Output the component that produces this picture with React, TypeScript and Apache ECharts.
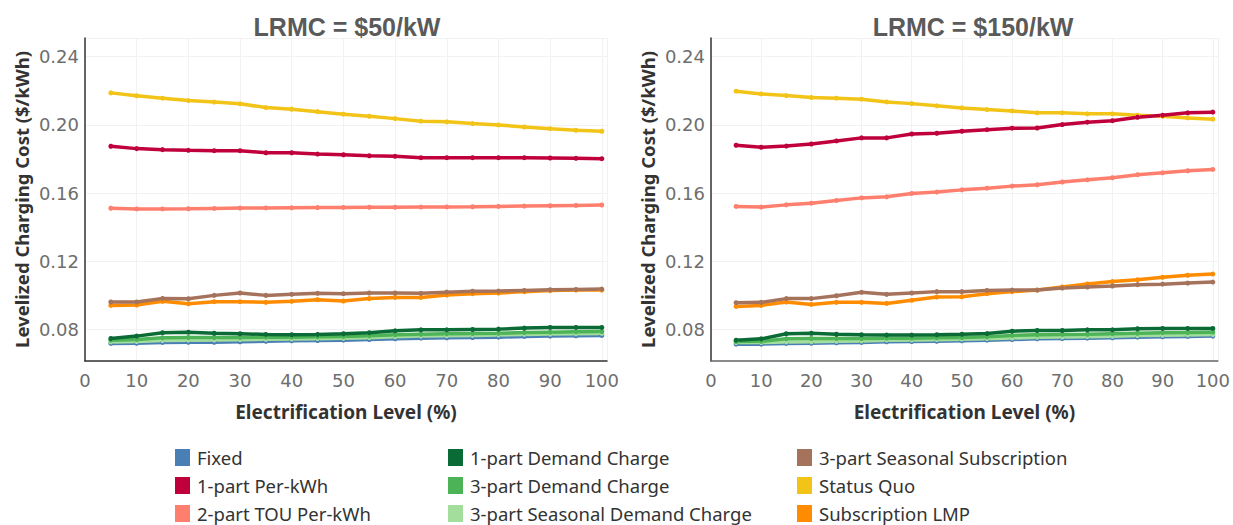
import React, { useEffect, useRef } from "react";
import * as echarts from "echarts";

// Electrification level (%) at each computed point
const electrification = [5, 10, 15, 20, 25, 30, 35, 40, 45, 50, 55, 60, 65, 70, 75, 80, 85, 90, 95, 100];

const panelTitles = ["LRMC = $50/kW", "LRMC = $150/kW"];

// ---- LRMC = $50/kW ----
const fixed50 = [0.0718, 0.0719, 0.0724, 0.0725, 0.0725, 0.0728, 0.0731, 0.0734, 0.0735, 0.0737, 0.0741, 0.0745, 0.0749, 0.0751, 0.0753, 0.0755, 0.0759, 0.0761, 0.0763, 0.0765];
const onePartKwh50 = [0.1875, 0.1861, 0.1855, 0.1851, 0.1849, 0.1849, 0.1837, 0.1837, 0.1829, 0.1825, 0.1819, 0.1816, 0.1808, 0.1808, 0.1808, 0.1808, 0.1808, 0.1806, 0.1804, 0.1802];
const twoPartTou50 = [0.1511, 0.1507, 0.1507, 0.1508, 0.1510, 0.1512, 0.1513, 0.1514, 0.1515, 0.1516, 0.1517, 0.1517, 0.1518, 0.1519, 0.1520, 0.1522, 0.1524, 0.1526, 0.1528, 0.1530];
const onePartDemand50 = [0.0747, 0.0761, 0.0781, 0.0784, 0.0778, 0.0775, 0.0771, 0.0769, 0.0771, 0.0775, 0.0781, 0.0792, 0.0798, 0.0798, 0.0800, 0.0802, 0.0808, 0.0812, 0.0812, 0.0812];
const threePartDemand50 = [0.0737, 0.0741, 0.0751, 0.0753, 0.0753, 0.0753, 0.0755, 0.0755, 0.0757, 0.0759, 0.0763, 0.0769, 0.0772, 0.0775, 0.0776, 0.0778, 0.0782, 0.0784, 0.0786, 0.0788];
const threePartSeasDemand50 = [0.0727, 0.0729, 0.0735, 0.0737, 0.0738, 0.0740, 0.0742, 0.0744, 0.0746, 0.0748, 0.0752, 0.0757, 0.0761, 0.0763, 0.0765, 0.0767, 0.0771, 0.0773, 0.0775, 0.0777];
const threePartSeasSub50 = [0.0961, 0.0961, 0.0982, 0.0980, 0.1000, 0.1014, 0.1000, 0.1006, 0.1012, 0.1010, 0.1014, 0.1014, 0.1012, 0.1019, 0.1024, 0.1025, 0.1029, 0.1033, 0.1035, 0.1037];
const statusQuo50 = [0.2188, 0.2171, 0.2157, 0.2143, 0.2134, 0.2124, 0.2102, 0.2092, 0.2078, 0.2063, 0.2051, 0.2037, 0.2022, 0.2018, 0.2008, 0.2000, 0.1988, 0.1978, 0.1969, 0.1963];
const subscriptionLmp50 = [0.0941, 0.0943, 0.0965, 0.0951, 0.0963, 0.0963, 0.0959, 0.0965, 0.0975, 0.0967, 0.0981, 0.0988, 0.0988, 0.1002, 0.1010, 0.1014, 0.1022, 0.1028, 0.1031, 0.1031];

// ---- LRMC = $150/kW ----
const fixed150 = [0.0714, 0.0714, 0.0718, 0.0719, 0.0722, 0.0724, 0.0728, 0.0729, 0.0731, 0.0734, 0.0737, 0.0741, 0.0745, 0.0747, 0.0749, 0.0751, 0.0755, 0.0757, 0.0759, 0.0761];
const onePartKwh150 = [0.1881, 0.1869, 0.1876, 0.1888, 0.1906, 0.1924, 0.1924, 0.1947, 0.1951, 0.1963, 0.1972, 0.1981, 0.1982, 0.2002, 0.2016, 0.2025, 0.2045, 0.2057, 0.2071, 0.2075];
const twoPartTou150 = [0.1522, 0.1518, 0.1531, 0.1541, 0.1557, 0.1572, 0.1578, 0.1598, 0.1606, 0.1619, 0.1629, 0.1641, 0.1649, 0.1665, 0.1678, 0.1690, 0.1708, 0.1719, 0.1731, 0.1739];
const onePartDemand150 = [0.0737, 0.0745, 0.0775, 0.0778, 0.0772, 0.0769, 0.0767, 0.0767, 0.0769, 0.0772, 0.0776, 0.0790, 0.0794, 0.0794, 0.0798, 0.0798, 0.0804, 0.0806, 0.0806, 0.0806];
const threePartDemand150 = [0.0729, 0.0731, 0.0745, 0.0747, 0.0747, 0.0747, 0.0749, 0.0749, 0.0751, 0.0753, 0.0757, 0.0765, 0.0769, 0.0771, 0.0772, 0.0775, 0.0778, 0.0781, 0.0782, 0.0784];
const threePartSeasDemand150 = [0.0723, 0.0723, 0.0727, 0.0728, 0.0731, 0.0733, 0.0737, 0.0738, 0.0740, 0.0743, 0.0746, 0.0750, 0.0754, 0.0756, 0.0758, 0.0760, 0.0764, 0.0766, 0.0768, 0.0770];
const threePartSeasSub150 = [0.0957, 0.0959, 0.0981, 0.0981, 0.0998, 0.1018, 0.1006, 0.1014, 0.1022, 0.1022, 0.1029, 0.1031, 0.1031, 0.1043, 0.1049, 0.1055, 0.1063, 0.1066, 0.1072, 0.1078];
const statusQuo150 = [0.2198, 0.2182, 0.2172, 0.2161, 0.2157, 0.2151, 0.2135, 0.2125, 0.2112, 0.2100, 0.2090, 0.2082, 0.2071, 0.2071, 0.2065, 0.2065, 0.2057, 0.2051, 0.2041, 0.2034];
const subscriptionLmp150 = [0.0935, 0.0941, 0.0961, 0.0947, 0.0959, 0.0959, 0.0953, 0.0971, 0.0990, 0.0992, 0.1010, 0.1022, 0.1031, 0.1049, 0.1067, 0.1081, 0.1092, 0.1106, 0.1118, 0.1125];

// Series (draw order) with colours
const seriesDefs = [
  { name: "Fixed", color: "#4a7fb5", d50: fixed50, d150: fixed150 },
  { name: "3-part Seasonal Demand Charge", color: "#a3de9c", d50: threePartSeasDemand50, d150: threePartSeasDemand150 },
  { name: "3-part Demand Charge", color: "#4cb356", d50: threePartDemand50, d150: threePartDemand150 },
  { name: "1-part Demand Charge", color: "#0b6b36", d50: onePartDemand50, d150: onePartDemand150 },
  { name: "Subscription LMP", color: "#ff8c00", d50: subscriptionLmp50, d150: subscriptionLmp150 },
  { name: "3-part Seasonal Subscription", color: "#a5735c", d50: threePartSeasSub50, d150: threePartSeasSub150 },
  { name: "2-part TOU Per-kWh", color: "#ff7f6f", d50: twoPartTou50, d150: twoPartTou150 },
  { name: "Status Quo", color: "#f2c417", d50: statusQuo50, d150: statusQuo150 },
  { name: "1-part Per-kWh", color: "#c0003c", d50: onePartKwh50, d150: onePartKwh150 },
];

const legendColumns = [
  ["Fixed", "1-part Per-kWh", "2-part TOU Per-kWh"],
  ["1-part Demand Charge", "3-part Demand Charge", "3-part Seasonal Demand Charge"],
  ["3-part Seasonal Subscription", "Status Quo", "Subscription LMP"],
];

const Y_MIN = 0.0615;
const Y_MAX = 0.251;
const X_MIN = 0;
const X_MAX = 101;

const tickFont = "DejaVu Sans";
const textFont = "Noto Sans";

export default function App() {
  const ref = useRef<HTMLDivElement>(null);

  useEffect(() => {
    document.body.style.margin = "0";
    if (!ref.current) return;
    const chart = echarts.init(ref.current, null, { renderer: "svg" });

    const grids = [
      { left: 85, top: 38, width: 522, height: 323 },
      { left: 711, top: 38, width: 522, height: 323 },
    ];

    const xAxes = [0, 1].map((g) => ({
      type: "value",
      gridIndex: g,
      min: X_MIN,
      max: X_MAX,
      interval: 10,
      axisLine: { show: true, lineStyle: { color: g === 0 ? "#333333" : "#666666", width: 1.5 } },
      axisTick: { show: false },
      axisLabel: {
        color: "#6e6e6e",
        fontSize: 18,
        fontFamily: tickFont,
        margin: 10,
        showMaxLabel: false,
      },
      splitLine: { show: true, lineStyle: { color: "#f2f2f2", width: 1 } },
      name: "Electrification Level (%)",
      nameLocation: "middle",
      nameGap: 41,
      nameTextStyle: { color: "#333333", fontSize: 19, fontWeight: "bold", fontFamily: textFont },
    }));

    const yAxes = [0, 1].map((g) => ({
      type: "value",
      gridIndex: g,
      min: Y_MIN,
      max: Y_MAX,
      minInterval: 0.04,
      maxInterval: 0.04,
      splitNumber: 5,
      axisLine: { show: true, lineStyle: { color: "#333333", width: 1.5 } },
      axisTick: { show: false },
      axisLabel: {
        color: "#6e6e6e",
        fontSize: 18,
        fontFamily: tickFont,
        margin: 6,
        showMinLabel: false,
        showMaxLabel: false,
        formatter: (v: number) => v.toFixed(2),
      },
      splitLine: { show: true, lineStyle: { color: "#f2f2f2", width: 1 } },
      name: "Levelized Charging Cost ($/kWh)",
      nameLocation: "middle",
      nameGap: 54,
      nameTextStyle: { color: "#333333", fontSize: 18.5, fontWeight: "bold", fontFamily: textFont },
    }));

    const series: any[] = [];
    [0, 1].forEach((g) => {
      seriesDefs.forEach((s) => {
        const vals = g === 0 ? s.d50 : s.d150;
        series.push({
          type: "line",
          name: s.name,
          xAxisIndex: g,
          yAxisIndex: g,
          data: electrification.map((x, i) => [x, vals[i]]),
          symbol: "circle",
          symbolSize: 5,
          showSymbol: true,
          lineStyle: { color: s.color, width: 3.5 },
          itemStyle: { color: s.color },
          emphasis: { disabled: true },
        });
      });
    });

    const legendLefts = [175, 448, 797];
    const legends = legendColumns.map((col, i) => ({
      orient: "vertical",
      left: legendLefts[i],
      top: 448,
      width: 400,
      height: 120,
      padding: 0,
      itemWidth: 15,
      itemHeight: 17,
      itemGap: 9,
      icon: "rect",
      selectedMode: false,
      data: col,
      textStyle: { color: "#333333", fontSize: 18.5, fontFamily: textFont, lineHeight: 18, padding: [0, 0, 0, 2] },
    }));

    const graphics = panelTitles.map((t, i) => ({
      type: "text",
      x: grids[i].left + grids[i].width / 2 + 1,
      y: 27,
      style: {
        text: t,
        fill: "#5a5a5a",
        font: "bold 25px 'Liberation Sans', Arial, sans-serif",
        textAlign: "center",
        textVerticalAlign: "middle",
      },
    }));

    chart.setOption({
      animation: false,
      backgroundColor: "#ffffff",
      grid: grids,
      xAxis: xAxes,
      yAxis: yAxes,
      legend: legends,
      series,
      graphic: graphics,
    });

    return () => chart.dispose();
  }, []);

  return <div ref={ref} style={{ width: 1233, height: 525 }} />;
}
